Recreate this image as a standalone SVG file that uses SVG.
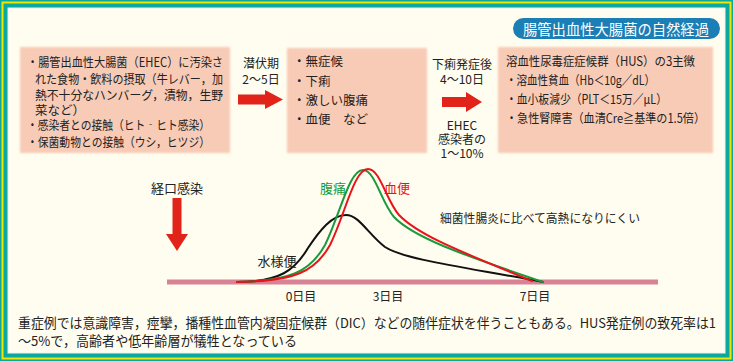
<svg xmlns="http://www.w3.org/2000/svg" width="733" height="361" viewBox="0 0 733 361">
<style>
text{font-family:"Noto Sans CJK JP","Noto Sans",sans-serif;fill:#222;dominant-baseline:central}
.b{font-size:12.5px}
.m{font-size:12px;text-anchor:middle}
.box{fill:#f8cbb6}
.ar{fill:#e2231a}
.crv{fill:none;stroke-width:2;stroke-linecap:round}
</style>
<defs>
<filter id="soft" x="-5%" y="-5%" width="110%" height="110%"><feGaussianBlur stdDeviation="1.2"/></filter>
</defs>
<rect x="0" y="0" width="733" height="361" fill="#0aa89e"/>
<rect x="1.5" y="1.5" width="730" height="358" fill="#f2e600"/>
<rect x="3.5" y="3.5" width="726" height="354" fill="#0aa89e"/>
<rect x="8" y="8" width="717" height="345" fill="#fffdef" stroke="#e6f4ee" stroke-width="1"/>

<g id="title">
<rect x="513" y="18" width="207" height="21" rx="10.5" fill="#1b7fb5"/>
<text x="616" y="28.5" style="font-size:15px;fill:#fff;text-anchor:middle" textLength="186" lengthAdjust="spacingAndGlyphs">腸管出血性大腸菌の自然経過</text>
</g>

<g id="box1">
<rect class="box" x="20" y="47" width="210" height="106" filter="url(#soft)"/>
<text class="b" x="27" y="61" textLength="196" lengthAdjust="spacingAndGlyphs">・腸管出血性大腸菌（EHEC）に汚染さ</text>
<text class="b" x="35" y="78.5" textLength="188" lengthAdjust="spacingAndGlyphs">れた食物・飲料の摂取（牛レバー，加</text>
<text class="b" x="35" y="94.5" textLength="188" lengthAdjust="spacingAndGlyphs">熱不十分なハンバーグ，漬物，生野</text>
<text class="b" x="35" y="109.5">菜など）</text>
<text class="b" x="27" y="124.5" textLength="183" lengthAdjust="spacingAndGlyphs">・感染者との接触（ヒト‐ヒト感染）</text>
<text class="b" x="27" y="141.5" textLength="183" lengthAdjust="spacingAndGlyphs">・保菌動物との接触（ウシ，ヒツジ）</text>
</g>

<g id="incubation">
<text class="m" x="261" y="62">潜伏期</text>
<text class="m" x="261" y="78">2～5日</text>
</g>

<g id="box2">
<rect class="box" x="287" y="48" width="140" height="105" filter="url(#soft)"/>
<text class="b" x="293" y="60.5">・無症候</text>
<text class="b" x="293" y="80">・下痢</text>
<text class="b" x="293" y="99">・激しい腹痛</text>
<text class="b" x="293" y="118">・血便　など</text>
</g>

<g id="onset">
<text class="m" x="462" y="63">下痢発症後</text>
<text class="m" x="462" y="78">4～10日</text>
<text class="m" x="462" y="124">EHEC</text>
<text class="m" x="462" y="138">感染者の</text>
<text class="m" x="462" y="152">1～10%</text>
</g>

<g id="box3">
<rect class="box" x="498" y="47" width="215" height="106" filter="url(#soft)"/>
<text class="b" x="506" y="60.5" textLength="189" lengthAdjust="spacingAndGlyphs">溶血性尿毒症症候群（HUS）の3主徴</text>
<text class="b" x="506" y="79" textLength="149" lengthAdjust="spacingAndGlyphs">・溶血性貧血（Hb＜10g／dL）</text>
<text class="b" x="506" y="98" textLength="161" lengthAdjust="spacingAndGlyphs">・血小板減少（PLT＜15万／μL）</text>
<text class="b" x="506" y="117" textLength="199" lengthAdjust="spacingAndGlyphs">・急性腎障害（血清Cre≧基準の1.5倍）</text>
</g>

<g id="connectors">
<polygon class="ar" points="238,94.5 265,94.5 265,90 283,99.5 265,109 265,104.5 238,104.5"/>
<polygon class="ar" points="442,97 466,97 466,92 482,102 466,112 466,107 442,107"/>
<polygon class="ar" points="172.5,198 181.5,198 181.5,234 188,234 177,251 166,234 172.5,234"/>
</g>

<g id="chart">
<text class="m" x="177" y="187" style="font-size:13px">経口感染</text>
<rect x="167" y="279.5" width="491" height="5" fill="#d98295"/>
<path class="crv" stroke="#111" d="M237,282 C280,282 295,270 308,248 C320,230 332,215 346,215 C359,215 368,234 385,247 C405,260 470,268 543,282"/>
<path class="crv" stroke="#1a9a3c" d="M237,282 C290,281 310,272 325,245 C340,215 349,170 363,170 C375,170 381,202 394,217 C415,239 470,257 543,282"/>
<path class="crv" stroke="#e8141b" d="M237,282 C295,281 315,272 330,245 C345,215 354,169 368,169 C380,169 386,200 399,215 C420,237 470,255 532,281"/>
<text class="m" x="333" y="187" style="font-size:13px;fill:#1a9a3c">腹痛</text>
<text class="m" x="397" y="187" style="font-size:13px;fill:#e8141b">血便</text>
<text class="m" x="277" y="260" style="font-size:13px">水様便</text>
<text x="440" y="217" style="font-size:12px" textLength="200" lengthAdjust="spacingAndGlyphs">細菌性腸炎に比べて高熱になりにくい</text>
<text class="m" x="301" y="295">0日目</text>
<text class="m" x="388" y="295">3日目</text>
<text class="m" x="535" y="295">7日目</text>
</g>

<g id="note">
<text x="18" y="322" style="font-size:13.4px" textLength="698" lengthAdjust="spacingAndGlyphs">重症例では意識障害，痙攣，播種性血管内凝固症候群（DIC）などの随伴症状を伴うこともある。HUS発症例の致死率は1</text>
<text x="18" y="340" style="font-size:13.4px" textLength="279" lengthAdjust="spacingAndGlyphs">～5%で，高齢者や低年齢層が犠牲となっている</text>
</g>
</svg>
